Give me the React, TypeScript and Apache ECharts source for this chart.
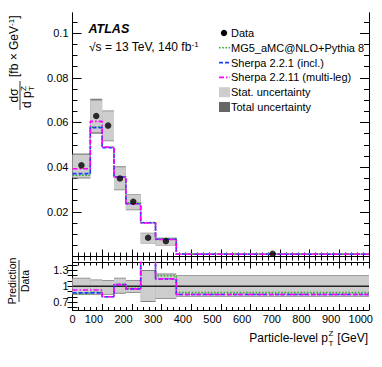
import React, { useEffect, useRef } from 'react';
import * as echarts from 'echarts';

// ---- data ----
const binLow = [0, 60, 100, 140, 180, 230, 280, 350];
const binHigh = [60, 100, 140, 180, 230, 280, 350, 1000];
const dataX = [30, 80, 120, 160, 205, 255, 315, 675];
const dataY = [0.0408, 0.0629, 0.0586, 0.0349, 0.0245, 0.0084, 0.0069, 0.0012];
const statHi = [0.0455, 0.0698, 0.065, 0.04, 0.0277, 0.0104, 0.0082, 0.0015];
const statLo = [0.0354, 0.0556, 0.0519, 0.03, 0.021, 0.006, 0.0051, 0.0009];
const totHi = [0.0461, 0.0706, 0.0654, 0.0404, 0.028, 0.0106, 0.0084, 0.0016];
const totLo = [0.0349, 0.0549, 0.0516, 0.0297, 0.0207, 0.0058, 0.0049, 0.0008];
const mg5 = [0.0364, 0.058, 0.0489, 0.0357, 0.024, 0.0152, 0.008, 0.00108];
const sherpa221 = [0.0371, 0.0577, 0.0487, 0.0356, 0.0236, 0.0151, 0.0077, 0.00103];
const sherpa2211 = [0.0393, 0.0605, 0.049, 0.0355, 0.0236, 0.015, 0.0076, 0.00103];
const ratioMg5 = [0.86, 0.885, 0.8, 1.03, 0.96, 1.8, 1.2, 0.88];
const ratioSherpa221 = [0.875, 0.875, 0.8, 1.03, 0.95, 1.8, 1.14, 0.845];
const ratioSherpa2211 = [0.93, 0.93, 0.8, 1.03, 0.95, 1.8, 1.14, 0.845];
const ratioTotHi = [1.16, 1.13, 1.12, 1.16, 1.12, 1.31, 1.24, 1.21];
const ratioTotLo = [0.84, 0.84, 0.84, 0.86, 0.87, 0.7, 0.76, 0.8];
const ratioStatHi = [1.145, 1.115, 1.105, 1.145, 1.105, 1.29, 1.225, 1.195];
const ratioStatLo = [0.855, 0.855, 0.855, 0.875, 0.885, 0.72, 0.775, 0.815];

const mainYLabels = [0.02, 0.04, 0.06, 0.08, 0.1];
const mainYMinor = [0.005, 0.01, 0.015, 0.025, 0.03, 0.035, 0.045, 0.05, 0.055, 0.065, 0.07, 0.075, 0.085, 0.09, 0.095, 0.105];
const ratioYTicks = [0.6, 0.7, 0.8, 0.9, 1.0, 1.1, 1.2, 1.3, 1.4];
const ratioYLabels = [0.7, 1, 1.3];

const FONT = 'Liberation Sans, Arial, Helvetica, sans-serif';
const C_GREEN = '#2fae2f';
const C_BLUE = '#1a3cff';
const C_MAGENTA = '#ff00ff';
const C_STAT = '#cdcdcd';
const C_TOT = '#808080';

const MAIN = { left: 72.5, top: 13, width: 296.5, height: 243.5 };
const RATIO = { left: 72.5, top: 262.5, width: 296.5, height: 47.5 };

function stepData(vals: number[]) {
  const pts = binLow.map((lo, i) => [lo, vals[i]]);
  pts.push([binHigh[binHigh.length - 1], vals[vals.length - 1]]);
  return pts;
}

function boxData(lo: number[], hi: number[]) {
  return binLow.map((l, i) => [l, binHigh[i], lo[i], hi[i]]);
}

function boxSeries(name: string, lo: number[], hi: number[], color: string, xi: number, yi: number, z: number) {
  return {
    type: 'custom',
    name,
    xAxisIndex: xi,
    yAxisIndex: yi,
    clip: true,
    z,
    encode: { x: [0, 1], y: [2, 3] },
    data: boxData(lo, hi),
    renderItem: (params: any, api: any) => {
      const p1 = api.coord([api.value(0), api.value(3)]);
      const p2 = api.coord([api.value(1), api.value(2)]);
      return {
        type: 'rect',
        shape: { x: p1[0], y: p1[1], width: p2[0] - p1[0], height: p2[1] - p1[1] },
        style: { fill: color },
      };
    },
  };
}

function stepSeries(name: string, vals: number[], color: string, dash: number[], xi: number, yi: number) {
  return {
    type: 'line',
    name,
    xAxisIndex: xi,
    yAxisIndex: yi,
    step: 'end',
    symbol: 'none',
    z: 5,
    data: stepData(vals),
    lineStyle: { color, width: 1.6, type: dash },
  };
}

const axisLine = { show: true, lineStyle: { color: '#000', width: 1 } };

export default function App() {
  const ref = useRef<HTMLDivElement>(null);
  useEffect(() => {
    document.body.style.margin = '0';
    const chart = echarts.init(ref.current!, null, { renderer: 'svg' });
    const xBase = (gridIndex: number, position: string, major: number, minor: number, labels: boolean) => ({
      type: 'value',
      gridIndex,
      position,
      min: 0,
      max: 1000,
      interval: 100,
      axisLine,
      splitLine: { show: false },
      axisTick: { show: true, inside: true, length: major, lineStyle: { color: '#000' } },
      minorTick: { show: true, splitNumber: 5, length: minor, lineStyle: { color: '#000' } },
      axisLabel: labels
        ? {
            show: true,
            margin: 3,
            fontSize: 11,
            color: '#000',
            fontFamily: FONT,
            formatter: (v: number) => (v === 0 ? '0' : `{p|${v}}`),
            rich: { p: { fontSize: 11, fontFamily: FONT, color: '#000', padding: [0, 16.5, 0, 0] } },
          }
        : { show: false },
    });
    const yMain = (position: string, ticks: number[], len: number, labels: boolean) => ({
      type: 'value',
      gridIndex: 0,
      position,
      min: 0,
      max: 0.109,
      axisLine,
      splitLine: { show: false },
      axisTick: { show: true, inside: true, length: len, customValues: ticks, lineStyle: { color: '#000' } },
      axisLabel: labels
        ? {
            show: true,
            customValues: mainYLabels,
            margin: 4,
            fontSize: 11,
            color: '#000',
            fontFamily: FONT,
            formatter: (v: number) => String(+v.toFixed(2)),
          }
        : { show: false },
    });
    const yRatio = (position: string, labels: boolean) => ({
      type: 'value',
      gridIndex: 1,
      position,
      min: 0.55,
      max: 1.45,
      axisLine,
      splitLine: { show: false },
      axisTick: { show: true, inside: true, length: 5, customValues: ratioYTicks, lineStyle: { color: '#000' } },
      axisLabel: labels
        ? {
            show: true,
            customValues: ratioYLabels,
            margin: 4,
            fontSize: 11,
            color: '#000',
            fontFamily: FONT,
            formatter: (v: number) => String(+v.toFixed(1)),
          }
        : { show: false },
    });

    const legendX = 219;
    const legendY = [33, 47.8, 62.6, 77.4, 92.2, 107];
    const textStyle = (text: string, x: number, y: number, extra: any = {}) => ({
      type: 'text',
      x,
      y,
      style: { text, fill: '#000', font: `11px ${FONT}`, verticalAlign: 'middle', align: 'left', ...extra },
    });

    const option: any = {
      animation: false,
      textStyle: { fontFamily: FONT },
      grid: [
        { ...MAIN, containLabel: false },
        { ...RATIO, containLabel: false },
      ],
      xAxis: [
        xBase(0, 'bottom', 7, 4, false),
        xBase(0, 'top', 7, 4, false),
        xBase(1, 'bottom', 6, 3, true),
        xBase(1, 'top', 6, 3, false),
      ],
      yAxis: [
        yMain('left', mainYLabels, 9, true),
        yMain('left', mainYMinor, 5, false),
        yMain('right', mainYLabels, 9, false),
        yMain('right', mainYMinor, 5, false),
        yRatio('left', true),
        yRatio('right', false),
      ],
      series: [
        boxSeries('Total uncertainty', totLo, totHi, C_TOT, 0, 0, 1),
        boxSeries('Stat. uncertainty', statLo, statHi, C_STAT, 0, 0, 2),
        stepSeries('MG5_aMC@NLO+Pythia 8', mg5, C_GREEN, [1.6, 1.6], 0, 0),
        stepSeries('Sherpa 2.2.1 (incl.)', sherpa221, C_BLUE, [4, 2], 0, 0),
        stepSeries('Sherpa 2.2.11 (multi-leg)', sherpa2211, C_MAGENTA, [5, 2, 1.5, 2], 0, 0),
        {
          type: 'scatter',
          name: 'Data',
          xAxisIndex: 0,
          yAxisIndex: 0,
          symbol: 'circle',
          symbolSize: 6.5,
          z: 8,
          itemStyle: { color: '#000' },
          data: dataX.map((x, i) => [x, dataY[i]]),
        },
        boxSeries('Ratio total', ratioTotLo, ratioTotHi, C_TOT, 2, 4, 1),
        boxSeries('Ratio stat', ratioStatLo, ratioStatHi, C_STAT, 2, 4, 2),
        {
          type: 'line',
          name: 'unity',
          xAxisIndex: 2,
          yAxisIndex: 4,
          symbol: 'none',
          z: 3,
          data: [
            [0, 1],
            [1000, 1],
          ],
          lineStyle: { color: '#222', width: 1.5 },
        },
        stepSeries('r MG5', ratioMg5, C_GREEN, [1.6, 1.6], 2, 4),
        stepSeries('r Sherpa221', ratioSherpa221, C_BLUE, [4, 2], 2, 4),
        stepSeries('r Sherpa2211', ratioSherpa2211, C_MAGENTA, [5, 2, 1.5, 2], 2, 4),
      ],
      graphic: [
        {
          type: 'text',
          x: 88.5,
          y: 29,
          style: { text: 'ATLAS', fill: '#000', font: `italic bold 12.5px ${FONT}`, verticalAlign: 'middle' },
        },
        {
          type: 'text',
          x: 89,
          y: 47,
          style: {
            text: '√s = 13 TeV, 140 fb{sup|-1}',
            fill: '#000',
            font: `12px ${FONT}`,
            verticalAlign: 'middle',
            lineHeight: 14,
            rich: { sup: { fontSize: 8, fontFamily: FONT, verticalAlign: 'top', lineHeight: 8 } },
          },
        },
        // legend
        { type: 'circle', shape: { cx: legendX + 5, cy: legendY[0], r: 3.2 }, style: { fill: '#000' } },
        textStyle('Data', 231, legendY[0]),
        {
          type: 'line',
          shape: { x1: legendX, y1: legendY[1], x2: legendX + 11, y2: legendY[1] },
          style: { stroke: C_GREEN, lineWidth: 1.6, lineDash: [1.6, 1.6] },
        },
        textStyle('MG5_aMC@NLO+Pythia 8', 231, legendY[1]),
        {
          type: 'line',
          shape: { x1: legendX, y1: legendY[2], x2: legendX + 11, y2: legendY[2] },
          style: { stroke: C_BLUE, lineWidth: 1.6, lineDash: [4, 2] },
        },
        textStyle('Sherpa 2.2.1 (incl.)', 231, legendY[2]),
        {
          type: 'line',
          shape: { x1: legendX, y1: legendY[3], x2: legendX + 11, y2: legendY[3] },
          style: { stroke: C_MAGENTA, lineWidth: 1.6, lineDash: [5, 2, 1.5, 2] },
        },
        textStyle('Sherpa 2.2.11 (multi-leg)', 231, legendY[3]),
        { type: 'rect', shape: { x: legendX, y: legendY[4] - 5, width: 11, height: 10 }, style: { fill: C_STAT } },
        textStyle('Stat. uncertainty', 231, legendY[4]),
        { type: 'rect', shape: { x: legendX, y: legendY[5] - 5, width: 11, height: 10 }, style: { fill: '#666' } },
        textStyle('Total uncertainty', 231, legendY[5]),
        // main y title (rotated)
        {
          type: 'group',
          x: 20,
          y: 110,
          rotation: Math.PI / 2,
          children: [
            { type: 'line', shape: { x1: 0, y1: 0, x2: 29, y2: 0 }, style: { stroke: '#000', lineWidth: 0.8 } },
            {
              type: 'text',
              x: 14.5,
              y: -6,
              style: { text: 'dσ', fill: '#000', font: `12px ${FONT}`, align: 'center', verticalAlign: 'middle' },
            },
            {
              type: 'text',
              x: 2,
              y: 7,
              style: { text: 'd p', fill: '#000', font: `12px ${FONT}`, align: 'left', verticalAlign: 'middle' },
            },
            {
              type: 'text',
              x: 19,
              y: 3,
              style: { text: 'Z', fill: '#000', font: `8px ${FONT}`, align: 'left', verticalAlign: 'middle' },
            },
            {
              type: 'text',
              x: 19,
              y: 11.5,
              style: { text: 'T', fill: '#000', font: `8px ${FONT}`, align: 'left', verticalAlign: 'middle' },
            },
            {
              type: 'text',
              x: 33,
              y: -6,
              style: {
                text: '[fb × GeV{sup|-1}]',
                fill: '#000',
                font: `12px ${FONT}`,
                align: 'left',
                verticalAlign: 'middle',
                lineHeight: 14,
                rich: { sup: { fontSize: 8, fontFamily: FONT, verticalAlign: 'top', lineHeight: 8 } },
              },
            },
          ],
        },
        // ratio y title (rotated)
        {
          type: 'group',
          x: 19,
          y: 302,
          rotation: Math.PI / 2,
          children: [
            { type: 'line', shape: { x1: 0, y1: 0, x2: 42, y2: 0 }, style: { stroke: '#000', lineWidth: 0.8 } },
            {
              type: 'text',
              x: 21,
              y: -7,
              style: { text: 'Prediction', fill: '#000', font: `10.5px ${FONT}`, align: 'center', verticalAlign: 'middle' },
            },
            {
              type: 'text',
              x: 21,
              y: 6,
              style: { text: 'Data', fill: '#000', font: `10.5px ${FONT}`, align: 'center', verticalAlign: 'middle' },
            },
          ],
        },
        // x title
        {
          type: 'text',
          x: 328,
          y: 338,
          style: { text: 'Particle-level p', fill: '#000', font: `12px ${FONT}`, align: 'right', verticalAlign: 'middle' },
        },
        {
          type: 'text',
          x: 328.5,
          y: 333,
          style: { text: 'Z', fill: '#000', font: `8px ${FONT}`, align: 'left', verticalAlign: 'middle' },
        },
        {
          type: 'text',
          x: 328.5,
          y: 343,
          style: { text: 'T', fill: '#000', font: `8px ${FONT}`, align: 'left', verticalAlign: 'middle' },
        },
        {
          type: 'text',
          x: 368,
          y: 338,
          style: { text: '[GeV]', fill: '#000', font: `12px ${FONT}`, align: 'right', verticalAlign: 'middle' },
        },
      ],
    };
    chart.setOption(option);
    return () => chart.dispose();
  }, []);
  return <div ref={ref} style={{ width: 382, height: 367 }} />;
}
